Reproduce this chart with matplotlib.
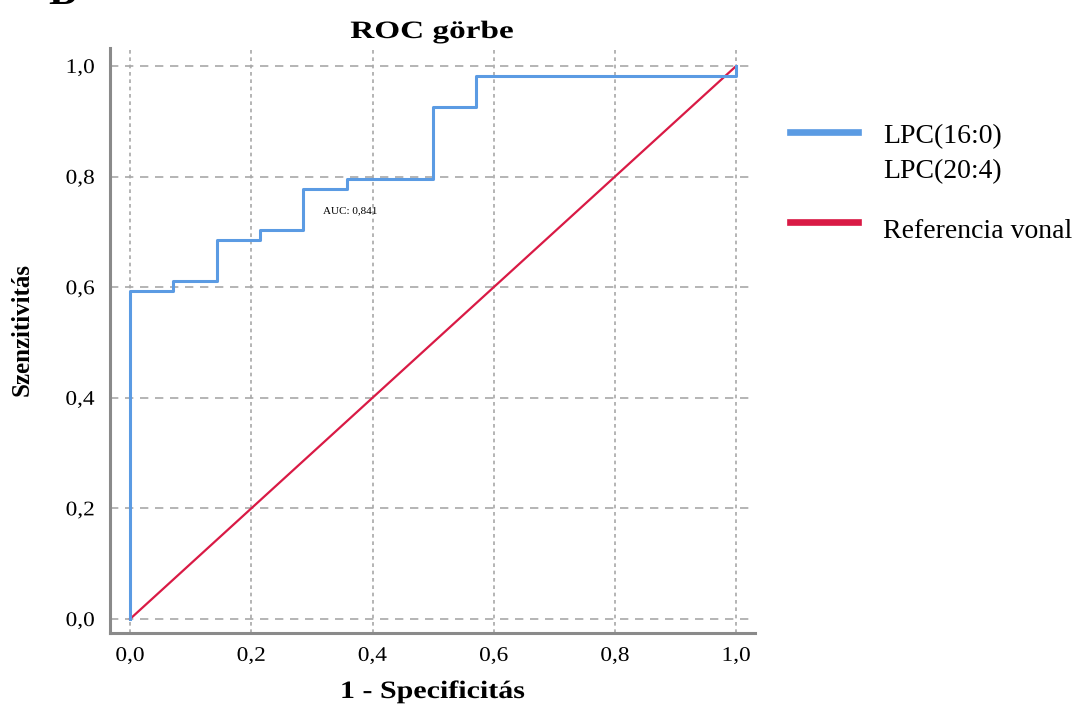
import numpy as np
import matplotlib
matplotlib.use('Agg')
import matplotlib.pyplot as plt
from matplotlib.lines import Line2D
from matplotlib.patheffects import AbstractPathEffect
from matplotlib.transforms import Affine2D

# ROC curve points (1 - specificity, sensitivity), step corners
fpr = [0.0, 0.0, 1/14, 1/14, 2/14, 2/14, 3/14, 3/14, 4/14, 4/14, 5/14, 5/14,
       7/14, 7/14, 8/14, 8/14, 1.0, 1.0]
tpr = [0.0, 32/54, 32/54, 33/54, 33/54, 37/54, 37/54, 38/54, 38/54, 42/54,
       42/54, 43/54, 43/54, 50/54, 50/54, 53/54, 53/54, 1.0]
ref_line = [0.0, 1.0]
auc = 0.841

ticks = [0.0, 0.2, 0.4, 0.6, 0.8, 1.0]
tick_labels = ['0,0', '0,2', '0,4', '0,6', '0,8', '1,0']

blue = '#5B9BE3'
red = '#D91A45'
plt.rcParams['font.family'] = ['Liberation Serif', 'DejaVu Serif']


class HStretch(AbstractPathEffect):
    """Widen text horizontally around an anchor (0 left, 0.5 centre, 1 right)."""

    def __init__(self, sx, anchor=0.5):
        super().__init__()
        self.sx = sx
        self.anchor = anchor

    def draw_path(self, renderer, gc, tpath, affine, rgbFace=None):
        ext = tpath.get_extents(affine)
        x0 = ext.x0 + self.anchor * ext.width
        t = affine + Affine2D().translate(-x0, 0).scale(self.sx, 1).translate(x0, 0)
        renderer.draw_path(gc, tpath, t, rgbFace)


fig = plt.figure(figsize=(10.84, 7.06), dpi=100)
ax = fig.add_axes([0.1015, 0.1034, 0.595, 0.8286])

ax.plot(ref_line, ref_line, color=red, lw=1.6, zorder=3)
ax.plot(fpr, tpr, color=blue, lw=2.2, zorder=4)

ax.set_xlim(-0.033, 1.031)
ax.set_ylim(-0.0253, 1.0325)
ax.set_xticks(ticks)
ax.set_xticklabels(tick_labels)
ax.set_yticks(ticks)
ax.set_yticklabels(tick_labels)
ax.tick_params(length=0, labelsize=15)
ax.tick_params(axis='x', pad=10)
ax.tick_params(axis='y', pad=11)
plt.setp(ax.get_xticklabels(), path_effects=[HStretch(1.12, 0.5)])
plt.setp(ax.get_yticklabels(), path_effects=[HStretch(1.12, 1.0)])

for t in ticks:
    ax.axhline(t, color='#A8A8A8', lw=1.2, ls=(0, (5, 4)), zorder=1)
    ax.axvline(t, color='#A8A8A8', lw=1.2, ls=(0, (2.2, 2.2)), zorder=1)

for side in ['top', 'right']:
    ax.spines[side].set_visible(False)
for side in ['left', 'bottom']:
    ax.spines[side].set_color('#8A8A8A')
    ax.spines[side].set_linewidth(2.2)

ax.text(0.318, 0.733, 'AUC: ' + f'{auc:.3f}'.replace('.', ','), fontsize=8,
        va='baseline', ha='left')

fig.text(432/1084, 1 - 38/706, 'ROC görbe', fontsize=18, fontweight='bold',
         ha='center', va='baseline', path_effects=[HStretch(1.33, 0.5)])
ax.set_xlabel('1 - Specificitás', fontsize=18, fontweight='bold',
              va='baseline', path_effects=[HStretch(1.2, 0.5)])
ax.xaxis.set_label_coords(0.5, -65/585)
ax.set_ylabel('Szenzitivitás', fontsize=18, fontweight='bold',
              va='center', ha='center')
ax.yaxis.set_label_coords(-88/645, 0.519)

# legend drawn on the figure
fig.add_artist(Line2D([790/1084, 858/1084], [1 - 132/706, 1 - 132/706],
                      color=blue, lw=4.8))
fig.text(883/1084, 1 - 143/706, 'LPC(16:0)', fontsize=20, va='baseline')
fig.text(883/1084, 1 - 178/706, 'LPC(20:4)', fontsize=20, va='baseline')
fig.add_artist(Line2D([790/1084, 858/1084], [1 - 222/706, 1 - 222/706],
                      color=red, lw=4.8))
fig.text(883/1084, 1 - 238/706, 'Referencia vonal', fontsize=20,
         va='baseline')

# panel letter, clipped at the top edge
fig.text(48/1084, 1 - 4/706, 'B', fontsize=30, fontweight='bold',
         va='baseline', ha='left')

fig.savefig('out.png', dpi=100)
